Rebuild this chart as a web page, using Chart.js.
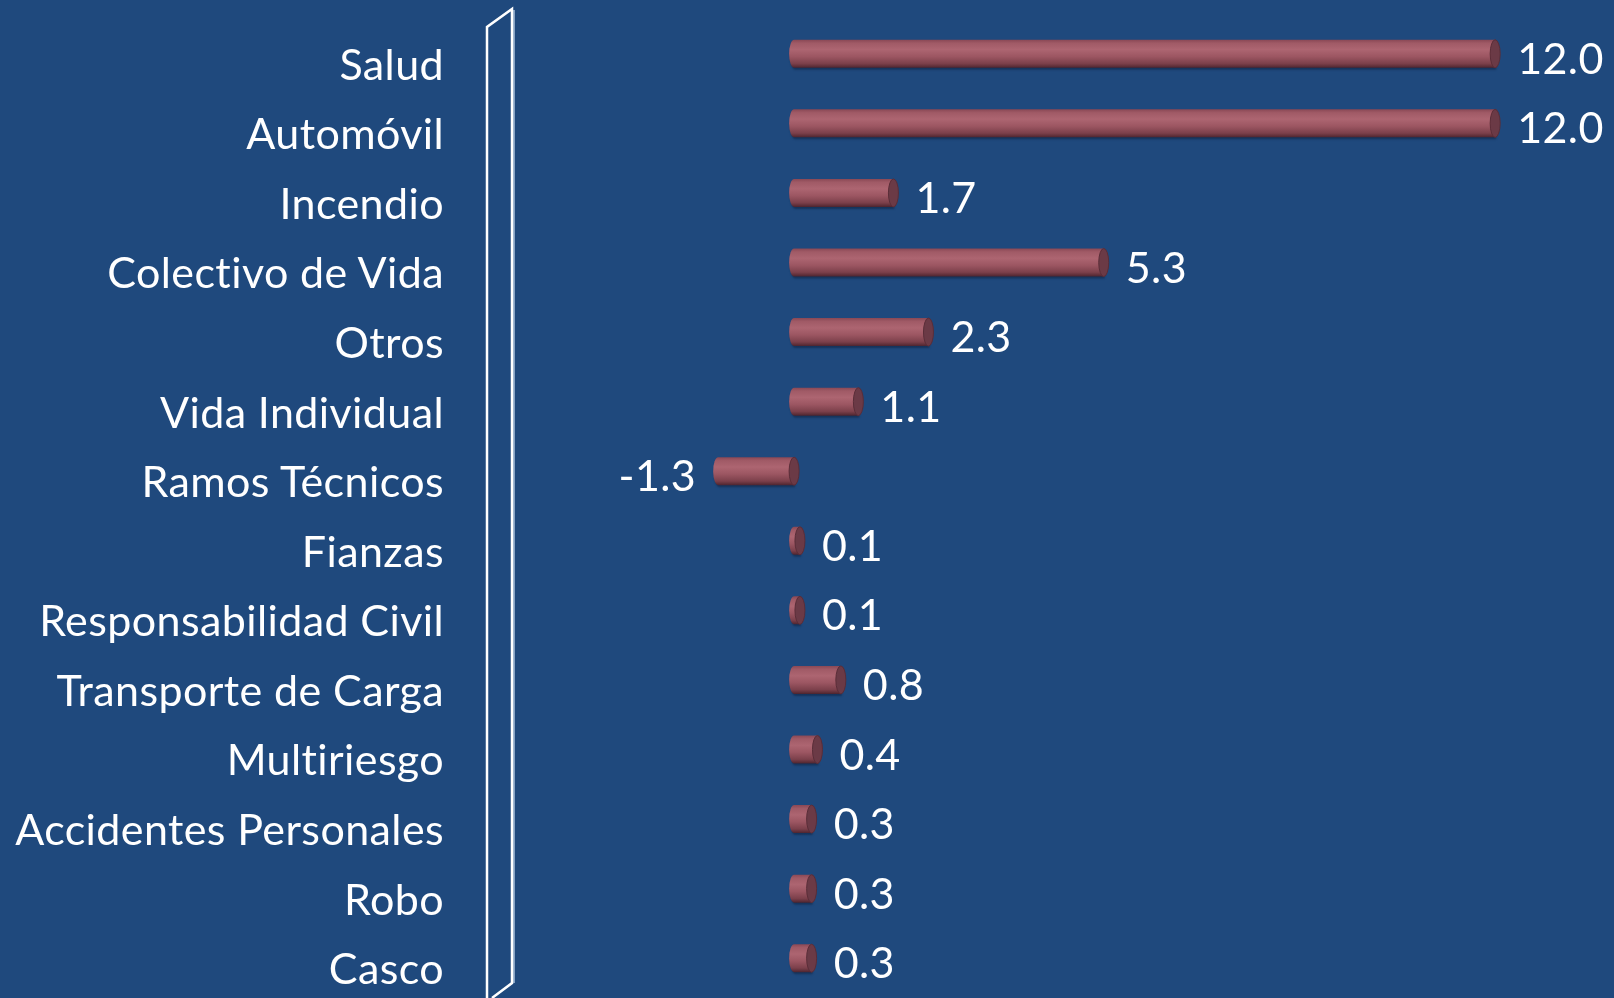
<!DOCTYPE html>
<html><head><meta charset="utf-8">
<script src="https://cdn.jsdelivr.net/npm/chart.js@4/dist/chart.umd.min.js"></script>
<style>
html,body{margin:0;padding:0;background:#1F497D;overflow:hidden;}
#wrap{position:relative;width:1614px;height:998px;}
</style></head><body>
<div id="wrap"><canvas id="c"></canvas></div>
<script>
const categories = ["Salud","Automóvil","Incendio","Colectivo de Vida","Otros","Vida Individual","Ramos Técnicos","Fianzas","Responsabilidad Civil","Transporte de Carga","Multiriesgo","Accidentes Personales","Robo","Casco"];
const values = [12.0, 12.0, 1.7, 5.3, 2.3, 1.1, -1.3, 0.1, 0.1, 0.8, 0.4, 0.3, 0.3, 0.3];
const xMin = -5;
const xMax = 14;

const FONT = 'Lato';
const CAP_RX = 5;

const cylinderPlugin = {
  id: 'cyl',
  beforeDraw(chart) {
    const ctx = chart.ctx;
    if ('letterSpacing' in ctx) ctx.letterSpacing = '0.4px';
    if ('textRendering' in ctx) ctx.textRendering = 'optimizeLegibility';
  },
  beforeDatasetsDraw(chart) {
    const ctx = chart.ctx, ca = chart.chartArea;
    const L = ca.left - 15, R = ca.left + 10;
    ctx.save();
    ctx.lineJoin = 'miter';
    ctx.strokeStyle = '#a9c0dc';
    ctx.lineWidth = 1.5;
    ctx.beginPath();
    ctx.moveTo(R + 2, ca.top - 9);
    ctx.lineTo(R + 2, ca.bottom - 10);
    ctx.stroke();
    ctx.strokeStyle = '#ffffff';
    ctx.lineWidth = 2.5;
    ctx.beginPath();
    ctx.moveTo(L, chart.height + 5);
    ctx.lineTo(L, ca.top + 8);
    ctx.lineTo(R, ca.top - 10);
    ctx.lineTo(R, ca.bottom - 10);
    ctx.lineTo(L + 5, ca.bottom + 5);
    ctx.stroke();
    ctx.restore();
  },
  afterDatasetsDraw(chart) {
    const ctx = chart.ctx;
    const meta = chart.getDatasetMeta(0);
    meta.data.forEach((bar, i) => {
      const p = bar.getProps(['x', 'y', 'base', 'height'], true);
      const l = Math.min(p.x, p.base), r = Math.max(p.x, p.base);
      const h = p.height, ry = h / 2, top = p.y - ry, bot = p.y + ry;
      ctx.save();
      ctx.shadowColor = 'rgba(10,25,50,0.45)';
      ctx.shadowOffsetY = 2;
      ctx.shadowOffsetX = 1;
      ctx.shadowBlur = 2;
      const g = ctx.createLinearGradient(0, top, 0, bot);
      g.addColorStop(0, '#8a4855');
      g.addColorStop(0.12, '#a05a66');
      g.addColorStop(0.35, '#ad6571');
      g.addColorStop(0.6, '#9c5662');
      g.addColorStop(0.85, '#7c404b');
      g.addColorStop(0.95, '#5e2e38');
      g.addColorStop(1, '#4a2430');
      ctx.fillStyle = g;
      ctx.beginPath();
      ctx.moveTo(r, top);
      ctx.lineTo(l, top);
      ctx.ellipse(l, p.y, CAP_RX, ry, 0, -Math.PI / 2, Math.PI / 2, true);
      ctx.lineTo(r, bot);
      ctx.closePath();
      ctx.fill();
      ctx.shadowColor = 'transparent';
      ctx.beginPath();
      ctx.ellipse(r, p.y, CAP_RX, ry, 0, 0, Math.PI * 2);
      ctx.fillStyle = '#6b3a46';
      ctx.fill();
      ctx.lineWidth = 1;
      ctx.strokeStyle = '#5a2d38';
      ctx.stroke();
      ctx.restore();

      const v = values[i];
      ctx.save();
      ctx.font = '43px ' + FONT;
      ctx.fillStyle = '#ffffff';
      ctx.textBaseline = 'alphabetic';
      const by = p.y + 20;
      if (v >= 0) {
        ctx.textAlign = 'left';
        ctx.fillText(v.toFixed(1), r + CAP_RX + 17, by);
      } else {
        ctx.textAlign = 'right';
        ctx.fillText(v.toFixed(1), l - CAP_RX - 17, by);
      }
      ctx.restore();
    });
  }
};

new Chart(document.getElementById('c'), {
  type: 'bar',
  data: {
    labels: categories,
    datasets: [{
      data: values,
      backgroundColor: 'rgba(0,0,0,0)',
      borderWidth: 0,
      barThickness: 28
    }]
  },
  options: {
    indexAxis: 'y',
    responsive: true,
    maintainAspectRatio: false,
    animation: false,
    events: [],
    layout: { padding: { top: 19, bottom: 5, right: 2, left: 0 } },
    plugins: { legend: { display: false }, tooltip: { enabled: false } },
    scales: {
      x: { min: xMin, max: xMax, display: false },
      y: {
        grid: { display: false, drawTicks: false },
        border: { display: false },
        afterFit(scale) {
          scale.width = 502;
          scale.paddingTop = 0;
          scale.paddingBottom = 0;
        },
        ticks: {
          color: '#ffffff',
          font: { family: FONT, size: 43 },
          padding: 58,
          labelOffset: 12,
          autoSkip: false
        }
      }
    }
  },
  plugins: [cylinderPlugin]
});
</script>
</body></html>
